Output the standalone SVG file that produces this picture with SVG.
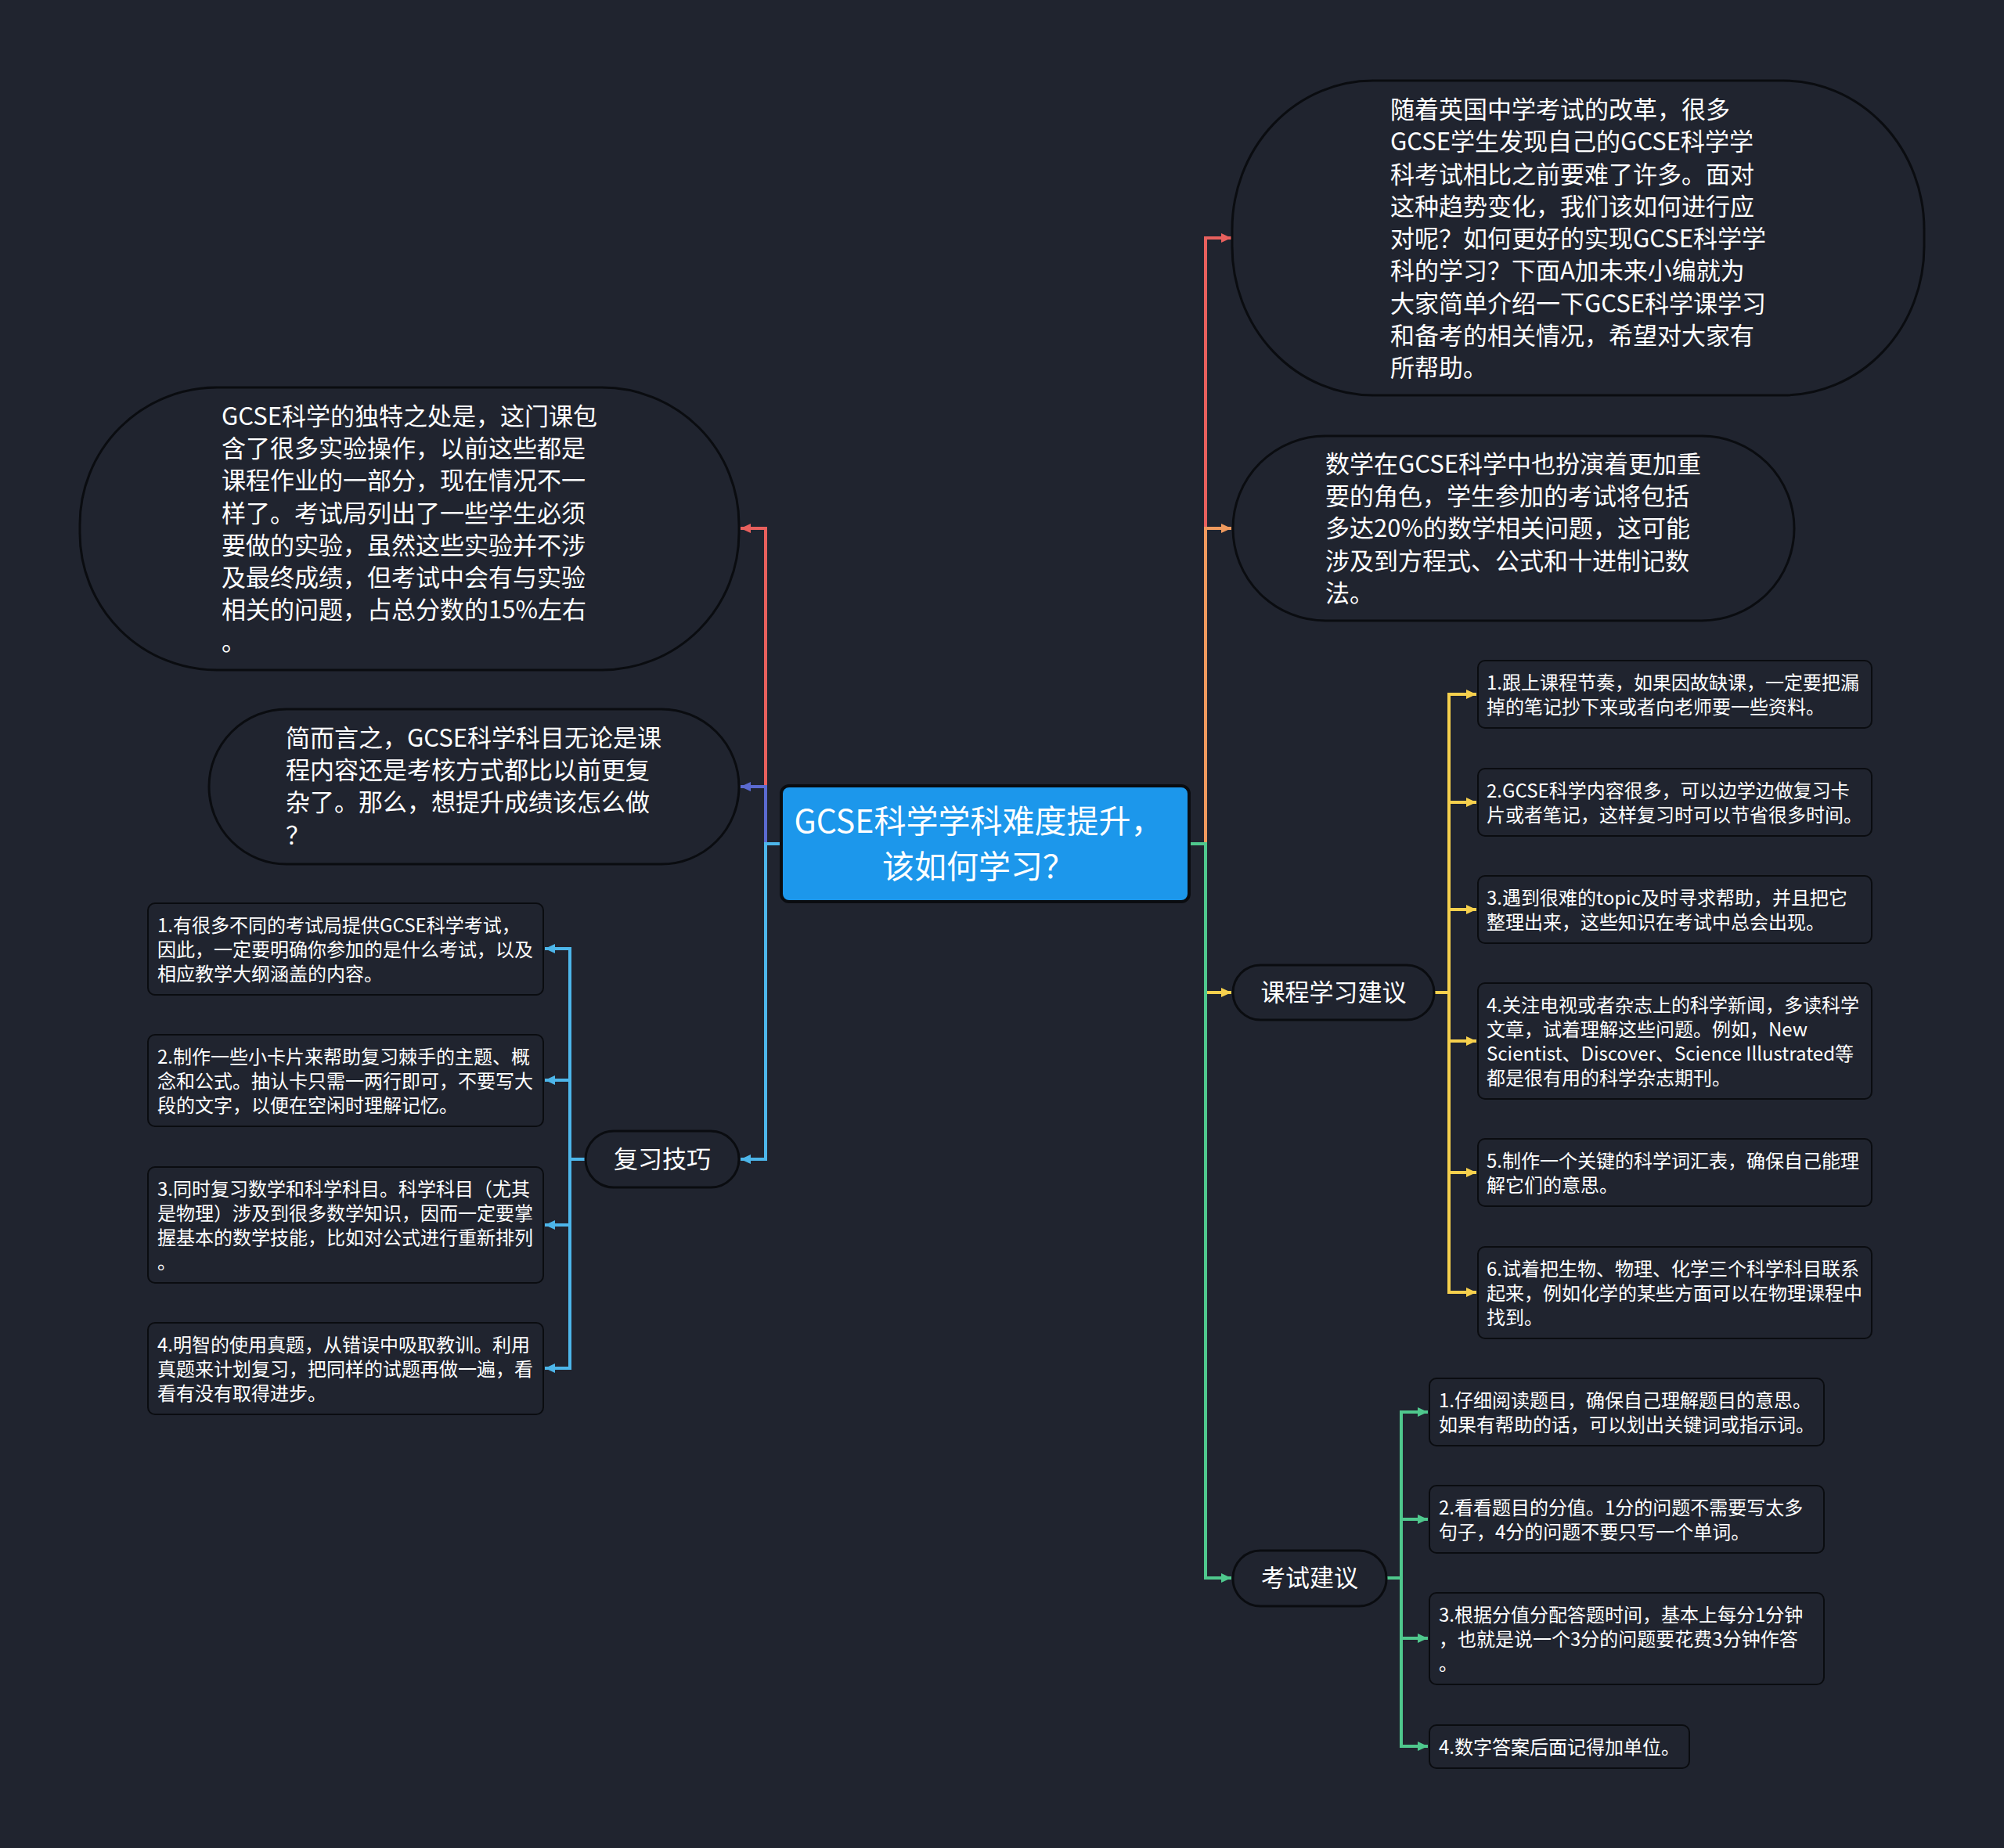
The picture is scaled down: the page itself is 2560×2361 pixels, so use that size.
<svg xmlns="http://www.w3.org/2000/svg" width="2560" height="2361" viewBox="0 0 2560 2361">
<style>
text{font-family:'Noto Sans CJK SC','Noto Sans',sans-serif;fill:#ffffff}
.big{font-size:31px}
.sm{font-size:24px}
.ctr{font-size:41px}
.ell{fill:#20242f;stroke:#0a0c10;stroke-width:3}
.box{fill:#20242f;stroke:#0a0c10;stroke-width:2}
.conn{fill:none;stroke-width:4}
</style>
<defs>
<marker id="mRed" viewBox="0 0 10 10" refX="10" refY="5" markerWidth="13" markerHeight="12" markerUnits="userSpaceOnUse" orient="auto" preserveAspectRatio="none"><path d="M0,0 L10,5 L0,10 z" fill="#e8605d"/></marker>
<marker id="mOrange" viewBox="0 0 10 10" refX="10" refY="5" markerWidth="13" markerHeight="12" markerUnits="userSpaceOnUse" orient="auto" preserveAspectRatio="none"><path d="M0,0 L10,5 L0,10 z" fill="#f09a5e"/></marker>
<marker id="mYellow" viewBox="0 0 10 10" refX="10" refY="5" markerWidth="13" markerHeight="12" markerUnits="userSpaceOnUse" orient="auto" preserveAspectRatio="none"><path d="M0,0 L10,5 L0,10 z" fill="#f6d04d"/></marker>
<marker id="mGreen" viewBox="0 0 10 10" refX="10" refY="5" markerWidth="13" markerHeight="12" markerUnits="userSpaceOnUse" orient="auto" preserveAspectRatio="none"><path d="M0,0 L10,5 L0,10 z" fill="#4fc88d"/></marker>
<marker id="mIndigo" viewBox="0 0 10 10" refX="10" refY="5" markerWidth="13" markerHeight="12" markerUnits="userSpaceOnUse" orient="auto" preserveAspectRatio="none"><path d="M0,0 L10,5 L0,10 z" fill="#5b6ad0"/></marker>
<marker id="mBlue" viewBox="0 0 10 10" refX="10" refY="5" markerWidth="13" markerHeight="12" markerUnits="userSpaceOnUse" orient="auto" preserveAspectRatio="none"><path d="M0,0 L10,5 L0,10 z" fill="#4db6ea"/></marker>
</defs>
<rect x="0" y="0" width="2560" height="2361" fill="#20242f"/>

<g id="connectors">
<path class="conn" stroke="#e8605d" marker-end="url(#mRed)" d="M1519,1078 H1540 V304 H1573"/>
<path class="conn" stroke="#f09a5e" marker-end="url(#mOrange)" d="M1519,1078 H1540 V675 H1573"/>
<path class="conn" stroke="#f6d04d" marker-end="url(#mYellow)" d="M1519,1078 H1540 V1268 H1573"/>
<path class="conn" stroke="#4fc88d" marker-end="url(#mGreen)" d="M1519,1078 H1540 V2016 H1573"/>
<path class="conn" stroke="#e8605d" marker-end="url(#mRed)" d="M998,1078 H978 V675 H946"/>
<path class="conn" stroke="#5b6ad0" marker-end="url(#mIndigo)" d="M998,1078 H978 V1005 H946"/>
<path class="conn" stroke="#4db6ea" marker-end="url(#mBlue)" d="M998,1078 H978 V1481 H946"/>
<path class="conn" stroke="#f6d04d" marker-end="url(#mYellow)" d="M1832,1268 H1851 V887 H1886"/>
<path class="conn" stroke="#f6d04d" marker-end="url(#mYellow)" d="M1832,1268 H1851 V1025 H1886"/>
<path class="conn" stroke="#f6d04d" marker-end="url(#mYellow)" d="M1832,1268 H1851 V1162 H1886"/>
<path class="conn" stroke="#f6d04d" marker-end="url(#mYellow)" d="M1832,1268 H1851 V1330 H1886"/>
<path class="conn" stroke="#f6d04d" marker-end="url(#mYellow)" d="M1832,1268 H1851 V1498 H1886"/>
<path class="conn" stroke="#f6d04d" marker-end="url(#mYellow)" d="M1832,1268 H1851 V1651 H1886"/>
<path class="conn" stroke="#4fc88d" marker-end="url(#mGreen)" d="M1771,2016 H1790 V1804 H1824"/>
<path class="conn" stroke="#4fc88d" marker-end="url(#mGreen)" d="M1771,2016 H1790 V1941 H1824"/>
<path class="conn" stroke="#4fc88d" marker-end="url(#mGreen)" d="M1771,2016 H1790 V2093 H1824"/>
<path class="conn" stroke="#4fc88d" marker-end="url(#mGreen)" d="M1771,2016 H1790 V2231 H1824"/>
<path class="conn" stroke="#4db6ea" marker-end="url(#mBlue)" d="M747,1481 H728 V1212 H696"/>
<path class="conn" stroke="#4db6ea" marker-end="url(#mBlue)" d="M747,1481 H728 V1380 H696"/>
<path class="conn" stroke="#4db6ea" marker-end="url(#mBlue)" d="M747,1481 H728 V1565 H696"/>
<path class="conn" stroke="#4db6ea" marker-end="url(#mBlue)" d="M747,1481 H728 V1748 H696"/>
</g>

<g id="center">
<rect x="998" y="1004" width="521" height="148" rx="10" fill="#1c97eb" stroke="#0a0c10" stroke-width="4"/>
<text class="ctr" text-anchor="middle" x="1250" y="1064">GCSE科学学科难度提升，</text>
<text class="ctr" text-anchor="middle" x="1250" y="1122">该如何学习？</text>
</g>

<g id="intro">
<rect class="ell" x="1574" y="103" width="884" height="402" rx="180" ry="190"/>
<text class="big"><tspan x="1776" y="151">随着英国中学考试的改革，很多</tspan><tspan x="1776" y="192.3">GCSE学生发现自己的GCSE科学学</tspan><tspan x="1776" y="233.5">科考试相比之前要难了许多。面对</tspan><tspan x="1776" y="274.8">这种趋势变化，我们该如何进行应</tspan><tspan x="1776" y="316">对呢？如何更好的实现GCSE科学学</tspan><tspan x="1776" y="357.3">科的学习？下面A加未来小编就为</tspan><tspan x="1776" y="398.5">大家简单介绍一下GCSE科学课学习</tspan><tspan x="1776" y="439.8">和备考的相关情况，希望对大家有</tspan><tspan x="1776" y="481">所帮助。</tspan></text>
</g>

<g id="math">
<rect class="ell" x="1575" y="557" width="717" height="236" rx="118" ry="118"/>
<text class="big"><tspan x="1693" y="604">数学在GCSE科学中也扮演着更加重</tspan><tspan x="1693" y="645.2">要的角色，学生参加的考试将包括</tspan><tspan x="1693" y="686.4">多达20%的数学相关问题，这可能</tspan><tspan x="1693" y="727.6">涉及到方程式、公式和十进制记数</tspan><tspan x="1693" y="768.8">法。</tspan></text>
</g>

<g id="experiment">
<rect class="ell" x="102" y="495" width="842" height="361" rx="175" ry="175"/>
<text class="big"><tspan x="283" y="543">GCSE科学的独特之处是，这门课包</tspan><tspan x="283" y="584.2">含了很多实验操作，以前这些都是</tspan><tspan x="283" y="625.4">课程作业的一部分，现在情况不一</tspan><tspan x="283" y="666.6">样了。考试局列出了一些学生必须</tspan><tspan x="283" y="707.8">要做的实验，虽然这些实验并不涉</tspan><tspan x="283" y="749">及最终成绩，但考试中会有与实验</tspan><tspan x="283" y="790.2">相关的问题，占总分数的15%左右</tspan><tspan x="283" y="831.4">。</tspan></text>
</g>

<g id="summary">
<rect class="ell" x="267" y="906" width="677" height="198" rx="99" ry="99"/>
<text class="big"><tspan x="365" y="954">简而言之，GCSE科学科目无论是课</tspan><tspan x="365" y="995.2">程内容还是考核方式都比以前更复</tspan><tspan x="365" y="1036.4">杂了。那么，想提升成绩该怎么做</tspan><tspan x="365" y="1077.6">？</tspan></text>
</g>

<g id="course">
<rect class="ell" x="1575" y="1233" width="257" height="70" rx="35" ry="35"/>
<text class="big" text-anchor="middle" x="1703.5" y="1279">课程学习建议</text>
</g>

<g id="exam">
<rect class="ell" x="1575" y="1981" width="196" height="71" rx="35" ry="35"/>
<text class="big" text-anchor="middle" x="1673" y="2027">考试建议</text>
</g>

<g id="review">
<rect class="ell" x="748" y="1445" width="196" height="72" rx="36" ry="36"/>
<text class="big" text-anchor="middle" x="846" y="1492">复习技巧</text>
</g>

<g id="course-1">
<rect class="box" x="1888" y="844" width="503" height="86" rx="9"/>
<text class="sm"><tspan x="1899" y="880.5">1.跟上课程节奏，如果因故缺课，一定要把漏</tspan><tspan x="1899" y="911.5">掉的笔记抄下来或者向老师要一些资料。</tspan></text>
</g>
<g id="course-2">
<rect class="box" x="1888" y="982" width="503" height="86" rx="9"/>
<text class="sm"><tspan x="1899" y="1018.5">2.GCSE科学内容很多，可以边学边做复习卡</tspan><tspan x="1899" y="1049.5">片或者笔记，这样复习时可以节省很多时间。</tspan></text>
</g>
<g id="course-3">
<rect class="box" x="1888" y="1119" width="503" height="86" rx="9"/>
<text class="sm"><tspan x="1899" y="1155.5">3.遇到很难的topic及时寻求帮助，并且把它</tspan><tspan x="1899" y="1186.5">整理出来，这些知识在考试中总会出现。</tspan></text>
</g>
<g id="course-4">
<rect class="box" x="1888" y="1256" width="503" height="148" rx="9"/>
<text class="sm"><tspan x="1899" y="1292.5">4.关注电视或者杂志上的科学新闻，多读科学</tspan><tspan x="1899" y="1323.5">文章，试着理解这些问题。例如，New</tspan><tspan x="1899" y="1354.5">Scientist、Discover、Science Illustrated等</tspan><tspan x="1899" y="1385.5">都是很有用的科学杂志期刊。</tspan></text>
</g>
<g id="course-5">
<rect class="box" x="1888" y="1455" width="503" height="86" rx="9"/>
<text class="sm"><tspan x="1899" y="1491.5">5.制作一个关键的科学词汇表，确保自己能理</tspan><tspan x="1899" y="1522.5">解它们的意思。</tspan></text>
</g>
<g id="course-6">
<rect class="box" x="1888" y="1593" width="503" height="117" rx="9"/>
<text class="sm"><tspan x="1899" y="1629.5">6.试着把生物、物理、化学三个科学科目联系</tspan><tspan x="1899" y="1660.5">起来，例如化学的某些方面可以在物理课程中</tspan><tspan x="1899" y="1691.5">找到。</tspan></text>
</g>

<g id="exam-1">
<rect class="box" x="1826" y="1761" width="504" height="86" rx="9"/>
<text class="sm"><tspan x="1838" y="1797.5">1.仔细阅读题目，确保自己理解题目的意思。</tspan><tspan x="1838" y="1828.5">如果有帮助的话，可以划出关键词或指示词。</tspan></text>
</g>
<g id="exam-2">
<rect class="box" x="1826" y="1898" width="504" height="86" rx="9"/>
<text class="sm"><tspan x="1838" y="1934.5">2.看看题目的分值。1分的问题不需要写太多</tspan><tspan x="1838" y="1965.5">句子，4分的问题不要只写一个单词。</tspan></text>
</g>
<g id="exam-3">
<rect class="box" x="1826" y="2035" width="504" height="117" rx="9"/>
<text class="sm"><tspan x="1838" y="2071.5">3.根据分值分配答题时间，基本上每分1分钟</tspan><tspan x="1838" y="2102.5">，也就是说一个3分的问题要花费3分钟作答</tspan><tspan x="1838" y="2133.5">。</tspan></text>
</g>
<g id="exam-4">
<rect class="box" x="1826" y="2204" width="332" height="55" rx="9"/>
<text class="sm" x="1838" y="2240.5">4.数字答案后面记得加单位。</text>
</g>

<g id="review-1">
<rect class="box" x="189" y="1154" width="505" height="117" rx="9"/>
<text class="sm"><tspan x="201" y="1190.5">1.有很多不同的考试局提供GCSE科学考试，</tspan><tspan x="201" y="1221.5">因此，一定要明确你参加的是什么考试，以及</tspan><tspan x="201" y="1252.5">相应教学大纲涵盖的内容。</tspan></text>
</g>
<g id="review-2">
<rect class="box" x="189" y="1322" width="505" height="117" rx="9"/>
<text class="sm"><tspan x="201" y="1358.5">2.制作一些小卡片来帮助复习棘手的主题、概</tspan><tspan x="201" y="1389.5">念和公式。抽认卡只需一两行即可，不要写大</tspan><tspan x="201" y="1420.5">段的文字，以便在空闲时理解记忆。</tspan></text>
</g>
<g id="review-3">
<rect class="box" x="189" y="1491" width="505" height="148" rx="9"/>
<text class="sm"><tspan x="201" y="1527.5">3.同时复习数学和科学科目。科学科目（尤其</tspan><tspan x="201" y="1558.5">是物理）涉及到很多数学知识，因而一定要掌</tspan><tspan x="201" y="1589.5">握基本的数学技能，比如对公式进行重新排列</tspan><tspan x="201" y="1620.5">。</tspan></text>
</g>
<g id="review-4">
<rect class="box" x="189" y="1690" width="505" height="117" rx="9"/>
<text class="sm"><tspan x="201" y="1726.5">4.明智的使用真题，从错误中吸取教训。利用</tspan><tspan x="201" y="1757.5">真题来计划复习，把同样的试题再做一遍，看</tspan><tspan x="201" y="1788.5">看有没有取得进步。</tspan></text>
</g>
</svg>
